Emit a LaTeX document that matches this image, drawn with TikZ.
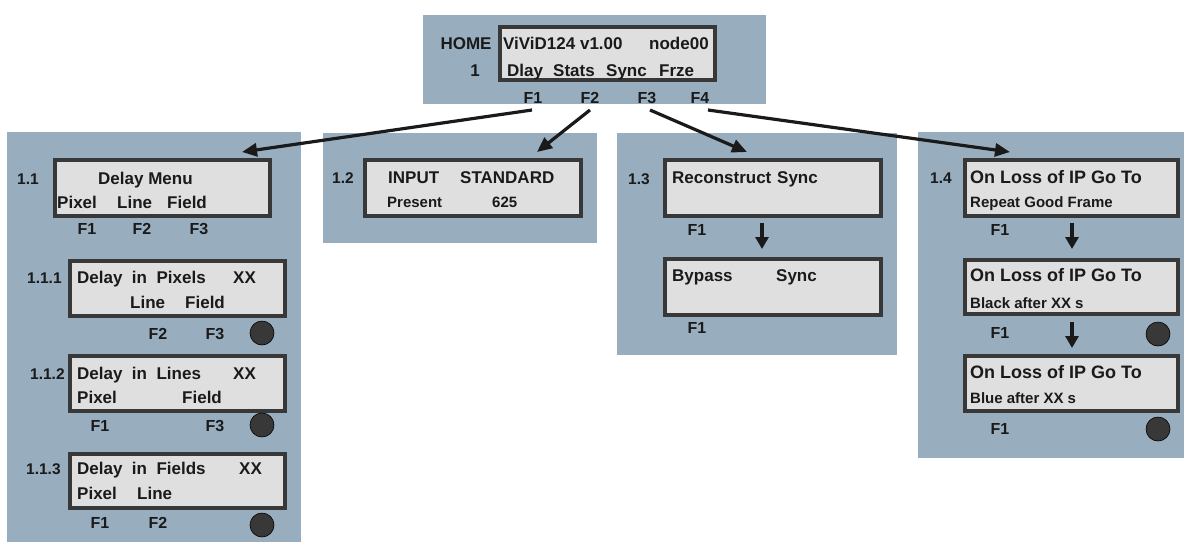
\documentclass[tikz,border=0pt]{standalone}
\usepackage{fontspec}
\setmainfont{Liberation Sans}
\usetikzlibrary{arrows.meta}
\definecolor{panel}{HTML}{98AEBF}
\definecolor{lcdfill}{HTML}{DFDFDF}
\definecolor{lcdline}{HTML}{383838}
\definecolor{ink}{HTML}{1A1A1A}
\tikzset{
 panelbox/.style={fill=panel, draw=none, rectangle, anchor=north west, inner sep=0pt, outer sep=0pt},
 lcdbox/.style={fill=lcdfill, draw=lcdline, line width=4pt, rectangle, anchor=north west, inner sep=0pt, outer sep=0pt},
 lt/.style={anchor=base west, inner sep=0pt, font=\fontsize{17}{17}\selectfont\bfseries, text=ink},
 ltb/.style={lt, font=\fontsize{18}{18}\selectfont\bfseries},
 lts/.style={lt, font=\fontsize{15}{15}\selectfont\bfseries},
 num/.style={lt, font=\fontsize{15.5}{15.5}\selectfont\bfseries},
 fkey/.style={anchor=base, inner sep=0pt, font=\fontsize{16}{16}\selectfont\bfseries, text=ink},
 knob/.style={circle, fill=lcdline, draw=black, line width=0.6pt, minimum size=24pt, inner sep=0pt},
 navarrow/.style={line width=3.2pt, draw=ink, -{Triangle[length=15pt,width=13pt]}},
 downarrow/.style={line width=3.5pt, draw=ink, -{Triangle[length=12pt,width=13pt]}},
}
\begin{document}
\begin{tikzpicture}[x=1pt,y=-1pt]
\useasboundingbox (0,0) rectangle (1184,542);
% panels
\node[panelbox, minimum width=343, minimum height=89] (ptop) at (423,15) {};
\node[panelbox, minimum width=294, minimum height=410] (p11) at (7,132) {};
\node[panelbox, minimum width=274, minimum height=110] (p12) at (323,133) {};
\node[panelbox, minimum width=280, minimum height=222] (p13) at (617,133) {};
\node[panelbox, minimum width=266, minimum height=326] (p14) at (918,132) {};
% LCDs
\node[lcdbox, minimum width=215, minimum height=53] (home) at (500,27) {};
\node[lcdbox, minimum width=215, minimum height=56] (l11) at (55,160) {};
\node[lcdbox, minimum width=215, minimum height=55] (l111) at (70,261) {};
\node[lcdbox, minimum width=215, minimum height=55] (l112) at (70,356) {};
\node[lcdbox, minimum width=215, minimum height=54] (l113) at (70,454) {};
\node[lcdbox, minimum width=216, minimum height=56] (l12) at (365,160) {};
\node[lcdbox, minimum width=216, minimum height=56] (l13a) at (665,160) {};
\node[lcdbox, minimum width=216, minimum height=56] (l13b) at (665,259) {};
\node[lcdbox, minimum width=213, minimum height=56] (l14a) at (965,160) {};
\node[lcdbox, minimum width=213, minimum height=54] (l14b) at (965,260) {};
\node[lcdbox, minimum width=213, minimum height=55] (l14c) at (965,356) {};
% home texts
\node[lt, anchor=base] (thome) at (466,49) {HOME};
\node[lt, anchor=base] (tone) at (475,76) {1};
\node[lt] (tvivid) at (503,49) {ViViD124 v1.00};
\node[lt] (tnode) at (649,49) {node00};
\node[lt] (tdlay) at (507,76) {Dlay};
\node[lt] (tstats) at (553,76) {Stats};
\node[lt] (tsync) at (606,76) {Sync};
\node[lt] (tfrze) at (659,76) {Frze};
\node[fkey] (hf1) at (533,103) {F1};
\node[fkey] (hf2) at (590,103) {F2};
\node[fkey] (hf3) at (647,103) {F3};
\node[fkey] (hf4) at (700,103) {F4};
% 1.1
\node[num] (n11) at (17,184) {1.1};
\node[lt] (a1) at (98,184) {Delay Menu};
\node[lt] (a2) at (57,208) {Pixel};
\node[lt] (a3) at (117,208) {Line};
\node[lt] (a4) at (167,208) {Field};
\node[fkey] (af1) at (87,234) {F1};
\node[fkey] (af2) at (142,234) {F2};
\node[fkey] (af3) at (199,234) {F3};
% 1.1.1
\node[num] (n111) at (27,283) {1.1.1};
\node[lt] (b1) at (77,283) {Delay~ in~ Pixels};
\node[lt] (b2) at (233,283) {XX};
\node[lt] (b3) at (130,308) {Line};
\node[lt] (b4) at (185,308) {Field};
\node[fkey] (bf2) at (158,339) {F2};
\node[fkey] (bf3) at (215,339) {F3};
\node[knob] (k1) at (262,333) {};
% 1.1.2
\node[num] (n112) at (30,379) {1.1.2};
\node[lt] (c1) at (77,379) {Delay~ in~ Lines};
\node[lt] (c2) at (233,379) {XX};
\node[lt] (c3) at (77,403) {Pixel};
\node[lt] (c4) at (182,403) {Field};
\node[fkey] (cf1) at (100,431) {F1};
\node[fkey] (cf3) at (215,431) {F3};
\node[knob] (k2) at (262,425) {};
% 1.1.3
\node[num] (n113) at (26,474) {1.1.3};
\node[lt] (d1) at (77,474) {Delay~ in~ Fields};
\node[lt] (d2) at (239,474) {XX};
\node[lt] (d3) at (77,499) {Pixel};
\node[lt] (d4) at (137,499) {Line};
\node[fkey] (df1) at (100,528) {F1};
\node[fkey] (df2) at (158,528) {F2};
\node[knob] (k3) at (262,525) {};
% 1.2
\node[num] (n12) at (332,183) {1.2};
\node[lt] (e1) at (388,183) {INPUT};
\node[lt] (e2) at (460,183) {STANDARD};
\node[lts] (e3) at (387,207) {Present};
\node[lts] (e4) at (492,207) {625};
% 1.3
\node[num] (n13) at (628,184) {1.3};
\node[lt] (g1) at (672,183) {Reconstruct};
\node[lt] (g2) at (777,183) {Sync};
\node[fkey] (gf1) at (697,235) {F1};
\node[lt] (g3) at (672,281) {Bypass};
\node[lt] (g4) at (776,281) {Sync};
\node[fkey] (gf2) at (697,333) {F1};
% 1.4
\node[num] (n14) at (930,183) {1.4};
\node[ltb] (h1) at (970,183) {On Loss of IP Go To};
\node[lts] (h2) at (970,207) {Repeat Good Frame};
\node[fkey] (hf1b) at (1000,235) {F1};
\node[ltb] (h3) at (970,281) {On Loss of IP Go To};
\node[lts] (h4) at (970,308) {Black after XX s};
\node[fkey] (hf2b) at (1000,338) {F1};
\node[knob] (k4) at (1158,334) {};
\node[ltb] (h5) at (970,378) {On Loss of IP Go To};
\node[lts] (h6) at (970,403) {Blue after XX s};
\node[fkey] (hf3b) at (1000,434) {F1};
\node[knob] (k5) at (1158,429) {};
% arrows
\coordinate (s1) at (532,110); \coordinate (e1t) at (242,152);
\coordinate (s2) at (590,110); \coordinate (e2t) at (537,152);
\coordinate (s3) at (650,110); \coordinate (e3t) at (747,152);
\coordinate (s4) at (708,110); \coordinate (e4t) at (1010,152);
\draw[navarrow] (s1) -- (e1t);
\draw[navarrow] (s2) -- (e2t);
\draw[navarrow] (s3) -- (e3t);
\draw[navarrow] (s4) -- (e4t);
\coordinate (d13s) at (762,223); \coordinate (d13e) at (762,249);
\coordinate (d14s) at (1072,223); \coordinate (d14e) at (1072,249);
\coordinate (d14s2) at (1072,322); \coordinate (d14e2) at (1072,348);
\draw[downarrow] (d13s) -- (d13e);
\draw[downarrow] (d14s) -- (d14e);
\draw[downarrow] (d14s2) -- (d14e2);
\end{tikzpicture}
\end{document}
